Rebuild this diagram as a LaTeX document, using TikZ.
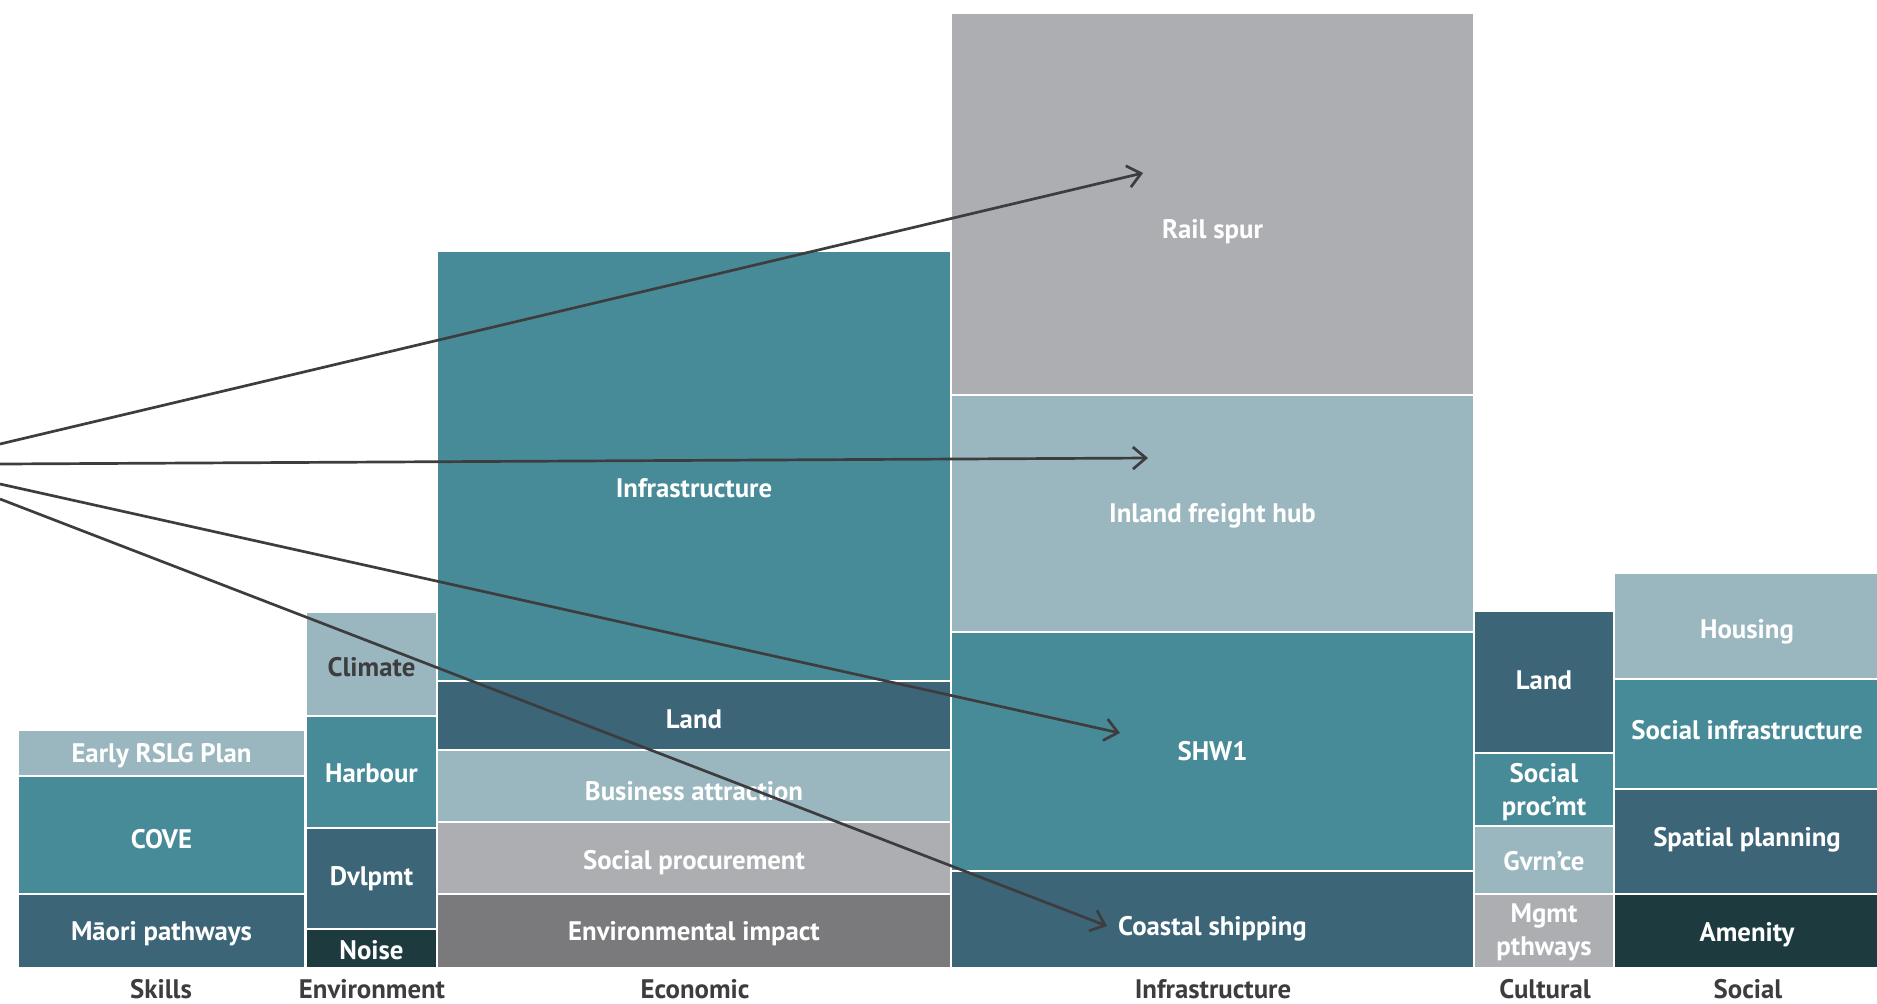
\documentclass[tikz,border=0pt]{standalone}
\usepackage{fontspec}
\setmainfont{PT Sans}
\usetikzlibrary{arrows.meta}
\definecolor{paleblue}{HTML}{9AB7BF}
\definecolor{teal}{HTML}{488B98}
\definecolor{slate}{HTML}{3C6577}
\definecolor{deep}{HTML}{1D3B3F}
\definecolor{lightgray}{HTML}{ADAEB2}
\definecolor{midgray}{HTML}{7A7A7C}
\definecolor{ink}{HTML}{3D3D3F}
\tikzset{
  cellfill/.style={draw=white, line width=1pt},
  celltext/.style={text=white, font=\bfseries\fontsize{13.4}{14.8}\selectfont, align=center, inner sep=0pt, yshift=-1.2pt},
  cattext/.style={text=ink, font=\bfseries\fontsize{13.4}{14.8}\selectfont, inner sep=0pt},
  conn/.style={draw=ink, line width=1.35pt, -{Straight Barb[length=6.5pt,width=11pt,line width=1.35pt]}}
}
% one cell: name, x1, y1, x2, y2, colour, label, label y
\newcommand\cell[8]{%
  \path[cellfill, fill=#6] (#2,#3) rectangle (#4,#5);
  \node[celltext] (#1) at ({(#2+#4)/2},#8) {#7};
}
\begin{document}
\begin{tikzpicture}[x=0.5pt, y=-0.5pt]
\useasboundingbox (0,0) rectangle (1877,1003);

% Skills
\cell{rslg}{18}{730}{305}{776}{paleblue}{Early RSLG Plan}{753}
\cell{cove}{18}{776}{305}{894}{teal}{COVE}{837}
\cell{maori}{18}{894}{305}{968}{slate}{Māori pathways}{931}

% Environment
\cell{climate}{306}{612}{437}{716}{paleblue}{\textcolor{ink}{Climate}}{665}
\cell{harbour}{306}{716}{437}{828}{teal}{Harbour}{771}
\cell{dvlpmt}{306}{828}{437}{929}{slate}{Dvlpmt}{876}
\cell{noise}{306}{929}{437}{968}{deep}{Noise}{948}

% Economic
\cell{ecoinfra}{437}{251}{951}{681}{teal}{Infrastructure}{486}
\cell{ecoland}{437}{681}{951}{750}{slate}{Land}{717}
\cell{business}{437}{750}{951}{822}{paleblue}{Business attraction}{789}
\cell{socproc}{437}{822}{951}{894}{lightgray}{Social procurement}{860}
\cell{envimp}{437}{894}{951}{968}{midgray}{Environmental impact}{931}

% Infrastructure
\cell{rail}{951}{13}{1474}{395}{lightgray}{Rail spur}{229}
\cell{inland}{951}{395}{1474}{632}{paleblue}{Inland freight hub}{513}
\cell{shw}{951}{632}{1474}{871}{teal}{SHW1}{749}
\cell{coastal}{951}{871}{1474}{968}{slate}{Coastal shipping}{926}

% Cultural
\cell{culland}{1474}{611}{1614}{753}{slate}{Land}{678}
\cell{culproc}{1474}{753}{1614}{826}{teal}{Social\\[1.7pt]proc’mt}{790}
\cell{gvrnce}{1474}{826}{1614}{894}{paleblue}{Gvrn’ce}{859}
\cell{mgmt}{1474}{894}{1614}{968}{lightgray}{Mgmt\\[1.7pt]pthways}{930}

% Social
\cell{housing}{1614}{573}{1880}{679}{paleblue}{Housing}{629}
\cell{socinfra}{1614}{679}{1880}{789}{teal}{Social infrastructure}{728}
\cell{spatial}{1614}{789}{1880}{894}{slate}{Spatial planning}{837}
\cell{amenity}{1614}{894}{1880}{968}{deep}{Amenity}{932}

% category captions
\node[cattext] (catskills) at (161,989) {Skills};
\node[cattext] (catenv) at (372,989) {Environment};
\node[cattext] (catecon) at (695,989) {Economic};
\node[cattext] (catinfra) at (1213,989) {Infrastructure};
\node[cattext] (catcult) at (1545,989) {Cultural};
\node[cattext] (catsoc) at (1748,989) {Social};

% connectors from the left margin into the infrastructure cells
\coordinate (s1) at (0,444);
\coordinate (s2) at (0,464);
\coordinate (s3) at (0,484);
\coordinate (s4) at (0,499);
\coordinate (e1) at (1143,173);
\coordinate (e2) at (1148,458);
\coordinate (e3) at (1120,733);
\coordinate (e4) at (1107,926);
\draw[conn] (s1) -- (e1);
\draw[conn] (s2) -- (e2);
\draw[conn] (s3) -- (e3);
\draw[conn] (s4) -- (e4);
\end{tikzpicture}
\end{document}
